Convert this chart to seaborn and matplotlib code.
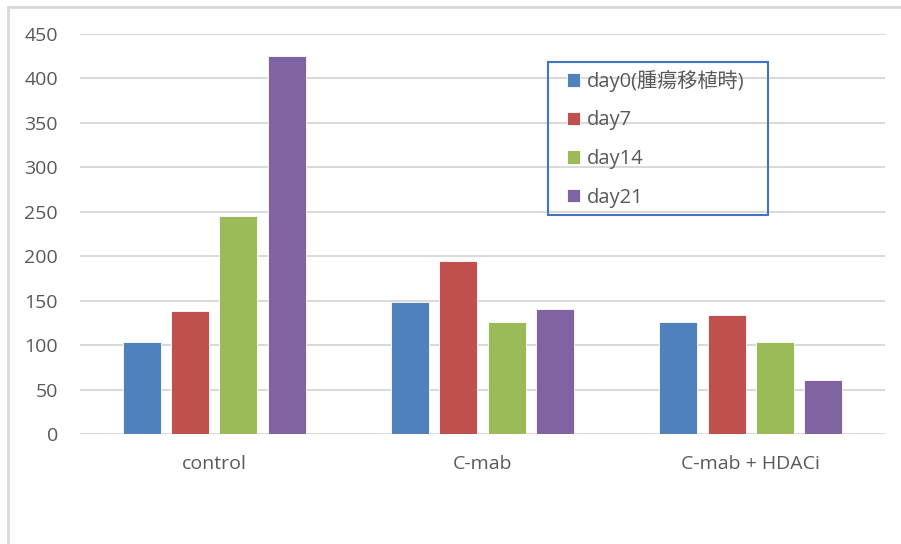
import numpy as np
import pandas as pd
import matplotlib.pyplot as plt
import matplotlib.lines as mlines
import matplotlib.patches as mpatches
import seaborn as sns

# ── Data ────────────────────────────────────────────────────────────────────
groups = ["control", "C-mab", "C-mab + HDACi"]
series = ["day0(腫瘍移植時)", "day7", "day14", "day21"]
day0 = [104, 149, 126]
day7 = [138, 195, 134]
day14 = [245, 126, 104]
day21 = [425, 141, 61]
yticks = [0, 50, 100, 150, 200, 250, 300, 350, 400, 450]

colors = ["#4F81BD", "#C0504D", "#9BBB59", "#8064A2"]
text_color = "#595959"
grid_color = "#D9D9D9"

df = pd.DataFrame({
    "group": groups * len(series),
    "series": np.repeat(series, len(groups)),
    "value": day0 + day7 + day14 + day21,
})

# ── Plot ────────────────────────────────────────────────────────────────────
sns.set_theme(style="white")
plt.rcParams["font.family"] = ["Open Sans", "Noto Sans CJK JP", "DejaVu Sans"]

W, H = 901, 544
fig = plt.figure(figsize=(W / 100, H / 100), dpi=100)
ax = fig.add_axes([80 / W, 1 - 434 / H, 805 / W, 400 / H])

sns.barplot(
    data=df, x="group", y="value", hue="series", order=groups,
    hue_order=series, palette=colors, saturation=1,
    width=0.72, gap=0.21, edgecolor="white", linewidth=0.6, ax=ax,
)

ax.set_xlim(-0.5, 2.5)
ax.set_ylim(0, 450)
ax.set_yticks(yticks)
ax.set_xlabel("")
ax.set_ylabel("")
for s in ax.spines.values():
    s.set_visible(False)
ax.yaxis.grid(True, color=grid_color, linewidth=1.4)
ax.set_axisbelow(True)
ax.tick_params(axis="y", length=0, pad=16, labelsize=14, labelcolor=text_color)
ax.tick_params(axis="x", length=0, pad=15, labelsize=14, labelcolor=text_color)

# Legend (frameless) inside an Excel-style box
handles, labels = ax.get_legend_handles_labels()
leg = ax.legend(
    handles, labels, loc="upper left",
    bbox_to_anchor=(567 / W, 1 - 70 / H), bbox_transform=fig.transFigure,
    frameon=False, fontsize=14.5, labelcolor=text_color,
    handlelength=0.65, handleheight=0.65, handletextpad=0.35,
    labelspacing=0.92, borderpad=0, borderaxespad=0,
)
fig.add_artist(mpatches.Rectangle((548 / W, 1 - 215 / H), 220 / W, 153 / H,
                                  transform=fig.transFigure, fill=False,
                                  edgecolor="#4472C4", lw=1.5))

# Outer chart-area border (top and left only visible)
fig.add_artist(mlines.Line2D([8 / W, 8 / W], [0, 1 - 7 / H],
                             transform=fig.transFigure, color=grid_color, lw=2))
fig.add_artist(mlines.Line2D([8 / W, 1], [1 - 7 / H, 1 - 7 / H],
                             transform=fig.transFigure, color=grid_color, lw=2))

fig.savefig("out.png", dpi=100)
